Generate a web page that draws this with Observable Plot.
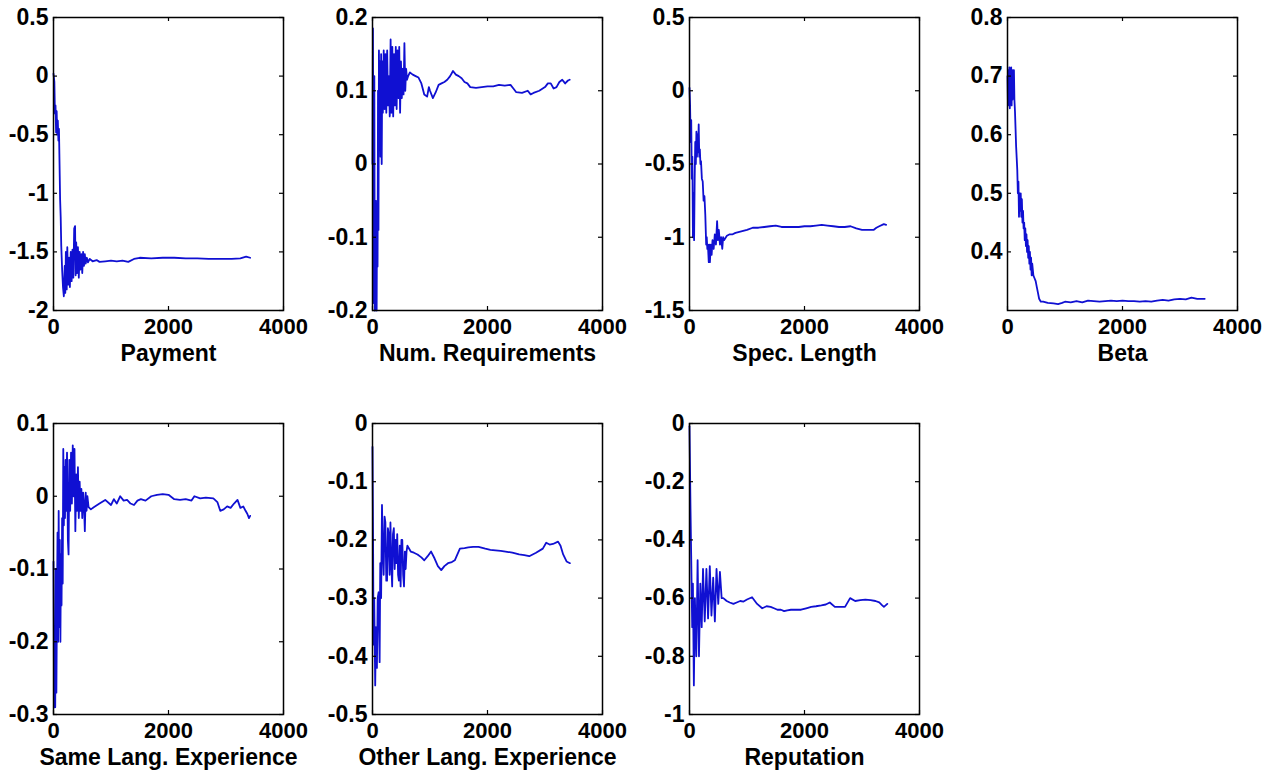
<!DOCTYPE html>
<html><head><meta charset="utf-8">
<script src="https://cdn.jsdelivr.net/npm/d3@7"></script>
<script src="https://cdn.jsdelivr.net/npm/@observablehq/plot@0.6"></script>
<style>
body{margin:0;background:#fff;}
#chart{position:relative;width:1270px;height:771px;overflow:hidden;background:#fff;}
#chart svg{position:absolute;overflow:visible;}
</style></head><body><div id="chart"></div>
<script>
// ---------- data ----------
const xTicks = [0, 2000, 4000];

const paymentTicks = [-2, -1.5, -1, -0.5, 0, 0.5];
const paymentIter = [0,15,25,35,45,55,65,75,85,95,105,115,125,135,150,165,180,195,205,215,230,240,255,270,285,300,315,330,345,360,375,385,395,410,425,440,455,470,485,500,515,530,545,560,580,600,630,680,750,800,900,1000,1100,1200,1300,1400,1500,1700,1900,2100,2300,2500,2700,2900,3100,3250,3350,3420];
const paymentValue = [0.02,-0.05,-0.32,-0.25,-0.48,-0.3,-0.5,-0.38,-0.55,-0.45,-0.75,-1.05,-1.2,-1.45,-1.65,-1.8,-1.88,-1.62,-1.85,-1.5,-1.82,-1.46,-1.78,-1.55,-1.8,-1.5,-1.75,-1.48,-1.72,-1.3,-1.28,-1.7,-1.42,-1.68,-1.46,-1.72,-1.5,-1.65,-1.52,-1.68,-1.5,-1.62,-1.52,-1.6,-1.55,-1.59,-1.56,-1.58,-1.57,-1.585,-1.58,-1.575,-1.58,-1.575,-1.585,-1.56,-1.55,-1.555,-1.55,-1.55,-1.555,-1.555,-1.56,-1.56,-1.56,-1.555,-1.54,-1.55];

const numReqTicks = [-0.2, -0.1, 0, 0.1, 0.2];
const numReqIter = [0,8,16,24,32,40,48,56,64,72,80,88,96,104,112,120,130,140,150,160,170,180,195,210,225,240,255,270,285,300,315,330,345,360,375,390,405,420,435,450,465,480,495,510,525,540,555,570,585,600,620,650,700,750,800,850,900,950,980,1000,1050,1100,1150,1200,1250,1300,1350,1400,1450,1500,1550,1600,1650,1700,1800,1900,2000,2100,2200,2300,2400,2450,2500,2600,2700,2750,2800,2900,3000,3050,3100,3150,3200,3250,3300,3350,3400,3430];
const numReqValue = [0,0.185,-0.05,-0.19,0.12,-0.2,-0.05,-0.19,-0.12,-0.2,-0.05,-0.14,0.1,-0.09,0.155,0.02,0.14,0.01,0.15,0,0.14,0.07,0.155,0.075,0.15,0.07,0.155,0.08,0.12,0.065,0.17,0.07,0.16,0.065,0.15,0.08,0.16,0.075,0.155,0.09,0.16,0.07,0.14,0.09,0.13,0.095,0.165,0.1,0.13,0.115,0.12,0.125,0.122,0.12,0.118,0.11,0.095,0.092,0.105,0.1,0.09,0.098,0.108,0.11,0.112,0.115,0.12,0.127,0.122,0.12,0.117,0.112,0.11,0.105,0.104,0.105,0.106,0.106,0.108,0.107,0.108,0.103,0.098,0.097,0.1,0.095,0.097,0.1,0.105,0.11,0.11,0.103,0.105,0.112,0.115,0.11,0.114,0.115];

const specTicks = [-1.5, -1, -0.5, 0, 0.5];
const specIter = [0,10,20,30,40,50,60,70,80,90,100,110,120,130,140,150,160,170,180,190,200,215,230,245,260,275,290,300,310,320,335,345,355,370,385,400,420,440,460,480,495,510,530,550,570,585,600,650,700,750,800,850,900,950,1000,1100,1200,1300,1400,1500,1600,1700,1800,1900,2000,2100,2200,2300,2400,2500,2600,2700,2800,2900,3000,3100,3200,3250,3300,3380,3420];
const specValue = [0.02,-0.1,-0.35,-0.2,-0.6,-0.45,-1,-0.7,-1.02,-0.6,-0.35,-0.5,-0.28,-0.45,-0.3,-0.42,-0.23,-0.45,-0.4,-0.5,-0.48,-0.6,-0.62,-0.75,-0.72,-0.85,-1.05,-1,-1.08,-1.05,-1.17,-1.05,-1.17,-1.05,-1.12,-1.02,-1.08,-0.98,-1.05,-0.89,-1.02,-0.95,-1.05,-1,-1.08,-1,-1.02,-0.99,-0.98,-0.98,-0.97,-0.965,-0.96,-0.955,-0.95,-0.935,-0.935,-0.93,-0.925,-0.92,-0.93,-0.93,-0.93,-0.93,-0.925,-0.925,-0.92,-0.915,-0.92,-0.925,-0.93,-0.93,-0.925,-0.94,-0.95,-0.95,-0.95,-0.935,-0.925,-0.91,-0.915];

const betaTicks = [0.4, 0.5, 0.6, 0.7, 0.8];
const betaIter = [0,8,16,24,32,40,48,56,64,72,80,88,96,104,112,120,130,140,150,160,170,180,190,200,210,220,230,240,250,260,270,280,290,300,310,320,330,340,350,360,370,380,390,400,410,420,430,450,470,490,510,530,550,580,620,700,800,880,950,1000,1100,1200,1300,1400,1500,1600,1700,1800,1900,2000,2100,2200,2300,2400,2500,2600,2700,2800,2900,3000,3100,3200,3300,3400,3430];
const betaValue = [0.7,0.65,0.71,0.66,0.715,0.645,0.71,0.67,0.715,0.65,0.71,0.66,0.71,0.68,0.71,0.66,0.64,0.61,0.58,0.56,0.54,0.5,0.52,0.46,0.5,0.47,0.5,0.46,0.49,0.45,0.47,0.44,0.45,0.42,0.44,0.41,0.43,0.4,0.42,0.39,0.41,0.38,0.4,0.37,0.39,0.36,0.38,0.36,0.355,0.35,0.34,0.33,0.32,0.315,0.315,0.313,0.312,0.311,0.313,0.315,0.314,0.316,0.314,0.317,0.316,0.315,0.316,0.317,0.316,0.317,0.316,0.316,0.315,0.316,0.315,0.317,0.318,0.317,0.319,0.32,0.319,0.322,0.32,0.32,0.32];

const sameLangTicks = [-0.3, -0.2, -0.1, 0, 0.1];
const sameLangIter = [0,10,20,30,40,50,60,70,80,90,100,110,120,130,140,150,160,170,180,190,200,210,220,235,250,262,275,290,305,320,335,350,365,380,395,410,425,440,455,470,485,500,515,530,545,560,575,590,610,650,700,800,900,1000,1050,1100,1160,1220,1280,1340,1400,1460,1520,1600,1700,1800,1900,2000,2100,2200,2300,2400,2450,2550,2650,2780,2850,2900,2960,3020,3080,3140,3200,3250,3300,3340,3370,3400,3420];
const sameLangValue = [-0.09,-0.29,-0.24,-0.29,-0.1,-0.27,-0.15,-0.05,-0.2,-0.02,-0.18,-0.06,-0.2,-0.08,-0.15,-0.03,-0.12,0.065,-0.04,0.04,-0.03,0.05,-0.02,0.06,-0.06,-0.08,0.05,-0.02,0.06,-0.01,0.07,0,0.065,-0.048,0.03,-0.02,0.04,-0.03,0.02,-0.02,0.01,-0.03,0.005,-0.01,-0.048,0.005,-0.02,0,-0.015,-0.018,-0.015,-0.01,-0.005,-0.012,-0.004,-0.01,0,-0.006,-0.005,-0.01,-0.012,-0.006,-0.004,-0.006,0,0.002,0.003,0.002,-0.004,-0.005,-0.004,-0.006,0,-0.003,-0.002,-0.003,-0.008,-0.02,-0.018,-0.014,-0.016,-0.01,-0.005,-0.016,-0.014,-0.02,-0.024,-0.03,-0.027];

const otherLangTicks = [-0.5, -0.4, -0.3, -0.2, -0.1, 0];
const otherLangIter = [0,10,18,30,47,60,77,90,106,124,135,150,165,180,194,210,224,240,253,268,283,298,312,327,342,356,371,386,400,415,430,445,459,474,489,503,518,533,548,563,577,592,607,665,720,783,850,901,960,1019,1080,1137,1196,1250,1313,1380,1431,1520,1600,1667,1750,1844,1961,2050,2138,2230,2315,2432,2550,2640,2726,2844,2962,3021,3080,3139,3227,3270,3316,3375,3434];
const otherLangValue = [-0.04,-0.2,-0.38,-0.3,-0.45,-0.35,-0.42,-0.3,-0.29,-0.41,-0.24,-0.3,-0.14,-0.22,-0.26,-0.16,-0.17,-0.27,-0.27,-0.18,-0.19,-0.26,-0.17,-0.24,-0.28,-0.19,-0.18,-0.25,-0.2,-0.24,-0.19,-0.26,-0.27,-0.21,-0.28,-0.2,-0.2,-0.26,-0.28,-0.22,-0.25,-0.22,-0.21,-0.22,-0.222,-0.225,-0.23,-0.235,-0.228,-0.22,-0.232,-0.245,-0.252,-0.245,-0.24,-0.238,-0.235,-0.215,-0.214,-0.213,-0.212,-0.212,-0.215,-0.217,-0.218,-0.219,-0.22,-0.222,-0.225,-0.226,-0.228,-0.222,-0.215,-0.205,-0.208,-0.207,-0.203,-0.21,-0.225,-0.237,-0.24];

const reputationTicks = [-1, -0.8, -0.6, -0.4, -0.2, 0];
const reputationIter = [0,18,29,47,59,76,94,118,141,165,188,212,235,265,294,323,353,382,412,441,470,500,529,559,588,647,700,764,820,882,940,1000,1088,1176,1264,1340,1411,1470,1529,1590,1646,1700,1764,1850,1940,2030,2117,2200,2293,2370,2440,2528,2620,2705,2793,2881,2970,3058,3150,3234,3300,3352,3381,3440];
const reputationValue = [-0.01,-0.3,-0.45,-0.7,-0.55,-0.9,-0.6,-0.8,-0.47,-0.8,-0.55,-0.7,-0.5,-0.68,-0.5,-0.67,-0.49,-0.66,-0.53,-0.68,-0.5,-0.62,-0.51,-0.6,-0.6,-0.61,-0.615,-0.62,-0.615,-0.61,-0.612,-0.605,-0.597,-0.62,-0.635,-0.628,-0.63,-0.635,-0.64,-0.64,-0.645,-0.642,-0.64,-0.64,-0.64,-0.635,-0.63,-0.628,-0.625,-0.622,-0.615,-0.63,-0.63,-0.63,-0.6,-0.61,-0.607,-0.605,-0.607,-0.61,-0.615,-0.625,-0.63,-0.62];

const labels = ["Payment", "Num. Requirements", "Spec. Length", "Beta", "Same Lang. Experience", "Other Lang. Experience", "Reputation"];

// ---------- layout ----------
const panels = [
  {label: labels[0], iter: paymentIter, value: paymentValue, domain: [-2, 0.5], ticks: paymentTicks, col: 0, row: 0},
  {label: labels[1], iter: numReqIter, value: numReqValue, domain: [-0.2, 0.2], ticks: numReqTicks, col: 1, row: 0},
  {label: labels[2], iter: specIter, value: specValue, domain: [-1.5, 0.5], ticks: specTicks, col: 2, row: 0},
  {label: labels[3], iter: betaIter, value: betaValue, domain: [0.3, 0.8], ticks: betaTicks, col: 3, row: 0},
  {label: labels[4], iter: sameLangIter, value: sameLangValue, domain: [-0.3, 0.1], ticks: sameLangTicks, col: 0, row: 1},
  {label: labels[5], iter: otherLangIter, value: otherLangValue, domain: [-0.5, 0], ticks: otherLangTicks, col: 1, row: 1},
  {label: labels[6], iter: reputationIter, value: reputationValue, domain: [-1, 0], ticks: reputationTicks, col: 2, row: 1}
];

const colLeft = [53, 372, 689, 1007];
const rowTop = [17, 423];
const rowH = [293, 291];
const W = 230;
const mL = 70, mR = 45, mT = 15, mB = 70;
const BLUE = "#1010d2";
const FONT = "Arial, 'Liberation Sans', Helvetica, sans-serif";
const fmt = d => String(d);

const chart = document.getElementById("chart");
for (const p of panels) {
  const H = rowH[p.row];
  const svg = Plot.plot({
    width: mL + W + mR,
    height: mT + H + mB,
    marginLeft: mL, marginRight: mR, marginTop: mT, marginBottom: mB,
    x: {domain: [0, 4000]},
    y: {domain: p.domain},
    style: {fontFamily: FONT, background: "transparent", color: "#000", overflow: "visible"},
    marks: [
      Plot.line(p.value, {x: p.iter, y: p.value, stroke: BLUE, strokeWidth: 1.8, strokeLinejoin: "round"}),
      Plot.frame({stroke: "#000", strokeWidth: 1.5}),
      Plot.tickY(p.ticks, {y: d => d, insetRight: W - 4, stroke: "#000", strokeWidth: 1.2}),
      Plot.tickY(p.ticks, {y: d => d, insetLeft: W - 4, stroke: "#000", strokeWidth: 1.2}),
      Plot.tickX(xTicks, {x: d => d, insetTop: H - 4, stroke: "#000", strokeWidth: 1.2}),
      Plot.tickX(xTicks, {x: d => d, insetBottom: H - 4, stroke: "#000", strokeWidth: 1.2}),
      Plot.axisY({ticks: p.ticks, tickSize: 0, tickPadding: 5, tickFormat: fmt, fontSize: 23, fontWeight: "bold", label: null}),
      Plot.axisX({ticks: xTicks, tickSize: 0, tickPadding: 8, tickFormat: fmt, fontSize: 22, fontWeight: "bold", label: null}),
      Plot.text([p.label], {text: d => d, frameAnchor: "bottom", lineAnchor: "top", dy: 34, fontSize: 23, fontWeight: "bold", fill: "#000"})
    ]
  });
  svg.style.left = (colLeft[p.col] - mL) + "px";
  svg.style.top = (rowTop[p.row] - mT) + "px";
  chart.appendChild(svg);
}
</script></body></html>
